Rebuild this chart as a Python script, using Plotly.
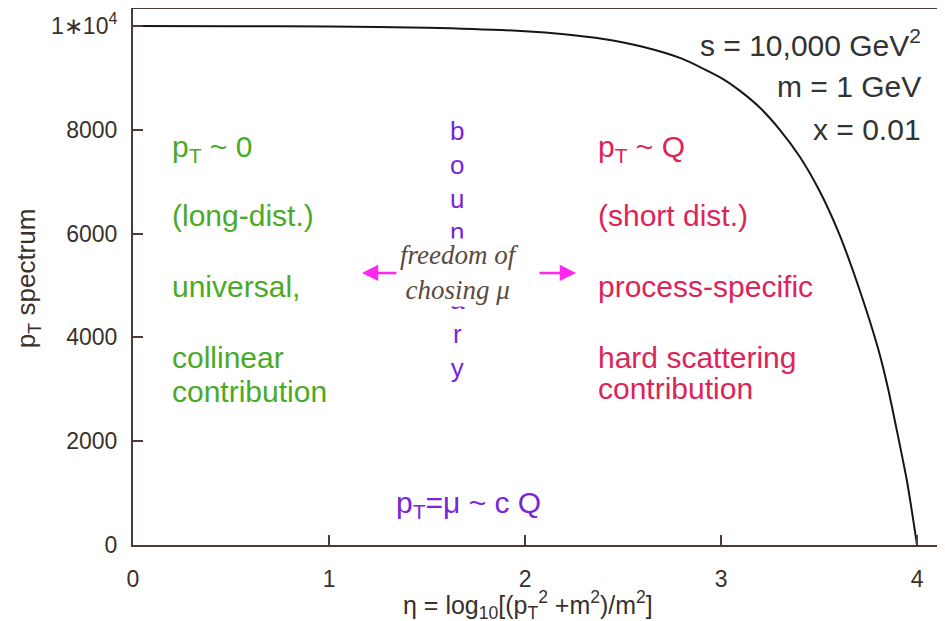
import plotly.graph_objects as go

# ---- data ----
eta = [0.0, 0.5, 1.0, 1.5, 2.0, 2.2, 2.4, 2.6, 2.8, 3.0, 3.1, 3.2, 3.3, 3.4,
       3.5, 3.6, 3.7, 3.8, 3.85, 3.9, 3.95, 4.0]
spectrum = [10000, 9997, 9990, 9968, 9900, 9842, 9750, 9600, 9370, 9000, 8740,
            8420, 8000, 7490, 6840, 6020, 4990, 3800, 3050, 2150, 1200, 0]

x_ticks = [0, 1, 2, 3, 4]
x_ticklabels = ["0", "1", "2", "3", "4"]
y_ticks = [0, 2000, 4000, 6000, 8000, 10000]
y_ticklabels = ["0", "2000", "4000", "6000", "8000", "1\u221710<sup>4</sup>"]

left_lines = ["p<sub>T</sub> ~ 0", "(long-dist.)", "universal,", "collinear", "contribution"]
left_y = [7649, 6339, 4971, 3622, 2967]
right_lines = ["p<sub>T</sub> ~ Q", "(short dist.)", "process-specific", "hard scattering", "contribution"]
right_y = [7649, 6339, 4971, 3622, 3006]
params = ["s = 10,000 GeV<sup>2</sup>", "m = 1 GeV", "x = 0.01"]
params_y = [9672, 8825, 7996]

AXC = "#4a3c34"
TXT = "#3a302a"
GREEN = "#4aaa28"
RED = "#dd2458"
PURPLE = "#7a24dc"
MAGENTA = "#ff26ee"
SANS = "Liberation Sans, Arial, sans-serif"
SERIF = "Liberation Serif, Times New Roman, serif"

fig = go.Figure()
fig.add_trace(go.Scatter(x=eta, y=spectrum, mode="lines",
                         line=dict(color="#1a1414", width=2, shape="spline", smoothing=0.6),
                         hoverinfo="skip", showlegend=False))

ann = []
for t, yv in zip(left_lines, left_y):
    ann.append(dict(x=0.19, y=yv, text=t, showarrow=False, xanchor="left", yanchor="middle",
                    font=dict(family=SANS, size=30, color=GREEN)))
for t, yv in zip(right_lines, right_y):
    ann.append(dict(x=2.36, y=yv, text=t, showarrow=False, xanchor="left", yanchor="middle",
                    font=dict(family=SANS, size=30, color=RED)))
for t, yv in zip(params, params_y):
    ann.append(dict(x=4.03, y=yv, text=t, showarrow=False, xanchor="right", yanchor="middle",
                    font=dict(family=SANS, size=30, color="#333333")))

# vertical "boundary"
ann.append(dict(x=1.653, y=5703, text="<br>".join(list("boundary")), showarrow=False,
                xanchor="center", yanchor="middle",
                font=dict(family=SANS, size=26, color=PURPLE)))
# freedom text with white box
ann.append(dict(x=1.668, y=5241, text="<i>freedom of</i><br><i>chosing \u03bc</i>", showarrow=False,
                xanchor="center", yanchor="middle", bgcolor="white", borderpad=1,
                font=dict(family=SERIF, size=27, color="#5a4a40")))
# arrows
ann.append(dict(x=1.168, y=5241, ax=36, ay=0, text="", showarrow=True, arrowhead=2,
                arrowsize=1.3, arrowwidth=2.5, arrowcolor=MAGENTA, standoff=0))
ann.append(dict(x=2.260, y=5241, ax=-38, ay=0, text="", showarrow=True, arrowhead=2,
                arrowsize=1.3, arrowwidth=2.5, arrowcolor=MAGENTA, standoff=0))
# pT = mu ~ cQ
ann.append(dict(x=1.714, y=771, text="p<sub>T</sub>=\u03bc ~ c Q", showarrow=False,
                xanchor="center", yanchor="middle",
                font=dict(family=SANS, size=30, color=PURPLE)))
# axis titles
ann.append(dict(xref="paper", yref="paper", x=-0.131, y=0.498, text="p<sub>T</sub> spectrum",
                showarrow=False, textangle=-90, xanchor="center", yanchor="middle",
                font=dict(family=SANS, size=26, color=TXT)))
ann.append(dict(xref="paper", yref="paper", x=0.49, y=-0.112,
                text="\u03b7 = log<sub>10</sub>[(p<sub>T</sub><sup>2</sup> +m<sup>2</sup>)/m<sup>2</sup>]",
                showarrow=False, xanchor="center", yanchor="middle",
                font=dict(family=SANS, size=25, color=TXT)))

# the page body adds an 8px offset, so margins compensate for it
fig.update_layout(
    width=945, height=621,
    margin=dict(l=125, r=13, t=1, b=84, autoexpand=False),
    paper_bgcolor="white", plot_bgcolor="white",
    annotations=ann, showlegend=False,
)
fig.update_xaxes(range=[0, 4.117], tickvals=x_ticks, ticktext=x_ticklabels,
                 ticks="inside", ticklen=10, tickwidth=1.5, tickcolor=AXC,
                 showline=True, linecolor=AXC, linewidth=2, mirror=True,
                 showgrid=False, zeroline=False, ticklabelstandoff=12, automargin=False,
                 tickfont=dict(family=SANS, size=23, color=TXT))
fig.update_yaxes(range=[0, 10327], tickvals=y_ticks, ticktext=y_ticklabels,
                 ticks="inside", ticklen=10, tickwidth=1.5, tickcolor=AXC,
                 showline=True, linecolor=AXC, linewidth=2, mirror=True,
                 showgrid=False, zeroline=False, ticklabelstandoff=9, automargin=False,
                 tickfont=dict(family=SANS, size=23, color=TXT))

fig.write_html("out.html")
